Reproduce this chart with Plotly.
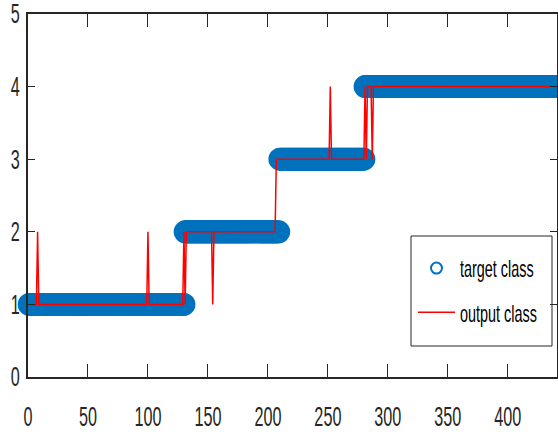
import numpy as np
import plotly.graph_objects as go

# Sample index runs: each class value holds for a number of consecutive samples
target_values = [1, 2, 3, 4]
target_lengths = [130, 79, 71, 160]

output_values = [1, 2, 1, 2, 1, 2, 1, 2, 1, 2, 3, 4, 3, 4, 3, 4, 3, 4]
output_lengths = [7, 1, 91, 1, 29, 1, 1, 22, 1, 52, 45, 1, 28, 1, 1, 4, 1, 153]

x_ticks = [0, 50, 100, 150, 200, 250, 300, 350, 400]
y_ticks = [0, 1, 2, 3, 4, 5]

target = np.repeat(target_values, target_lengths)
output = np.repeat(output_values, output_lengths)
idx_t = np.arange(1, len(target) + 1)
idx_o = np.arange(1, len(output) + 1)

FONT = "Liberation Sans, Arial, Helvetica, sans-serif"
AX = "#262626"
BLUE = "#0072BD"
RED = "#FF0000"

fig = go.Figure()
fig.add_trace(go.Scatter(
    x=idx_t, y=target, mode="markers", name="target class",
    marker=dict(symbol="circle-open", size=20, color=BLUE,
                line=dict(width=3, color=BLUE)),
    cliponaxis=False, showlegend=False,
))
fig.add_trace(go.Scatter(
    x=idx_o, y=output, mode="lines", name="output class",
    line=dict(color=RED, width=1.5), showlegend=False,
))
# legend keys
fig.add_trace(go.Scatter(
    x=[None], y=[None], mode="markers", name="target class",
    marker=dict(symbol="circle-open", size=11, color=BLUE,
                line=dict(width=2, color=BLUE)),
    legendgroup="a",
))
fig.add_trace(go.Scatter(
    x=[None], y=[None], mode="lines", name="output class",
    line=dict(color=RED, width=1.5), legendgroup="b",
))

fig.update_layout(
    width=558, height=437,
    margin=dict(l=28, r=1, t=14, b=60, autoexpand=False),
    paper_bgcolor="white", plot_bgcolor="white",
    font=dict(family=FONT, size=27, color=AX),
    showlegend=True,
    legend=dict(
        x=(413 - 28) / 529, y=(377 - 246) / 363, xanchor="left", yanchor="top",
        bgcolor="rgba(255,255,255,0)", borderwidth=0,
        font=dict(family=FONT, size=24, color="black"),
        itemwidth=37, tracegroupgap=10,
    ),
    shapes=[dict(
        type="rect", xref="paper", yref="paper",
        x0=(411 - 28) / 529, x1=(552 - 28) / 529,
        y0=(377 - 346) / 363, y1=(377 - 236) / 363,
        line=dict(color=AX, width=1), fillcolor="white", layer="below",
    )],
)
fig.update_xaxes(
    range=[0, 441], tickvals=x_ticks, ticks="inside", ticklen=13, tickwidth=1,
    tickcolor=AX, showline=True, linecolor=AX, linewidth=1.5, mirror="ticks",
    showgrid=False, zeroline=False, ticklabelstandoff=15,
    ticklabeloverflow="allow",
)
fig.update_yaxes(
    range=[0, 5], tickvals=y_ticks, ticks="inside", ticklen=7, tickwidth=1,
    tickcolor=AX, showline=True, linecolor=AX, linewidth=1.5, mirror="ticks",
    showgrid=False, zeroline=False, ticklabelstandoff=1,
    ticklabeloverflow="allow",
)

# Narrow the lettering horizontally (condensed glyphs) once text is laid out
squeeze_js = """
var gd = document.getElementById('{plot_id}');
function squeezeText() {
  gd.querySelectorAll('text').forEach(function (t) {
    if (t.getAttribute('data-sq')) return;
    var w = t.getComputedTextLength();
    if (w > 0) {
      t.setAttribute('textLength', (w * 0.6).toFixed(2));
      t.setAttribute('lengthAdjust', 'spacingAndGlyphs');
      t.setAttribute('data-sq', '1');
    }
  });
}
squeezeText();
gd.on('plotly_afterplot', squeezeText);
"""

fig.write_html("out.html", post_script=squeeze_js)
